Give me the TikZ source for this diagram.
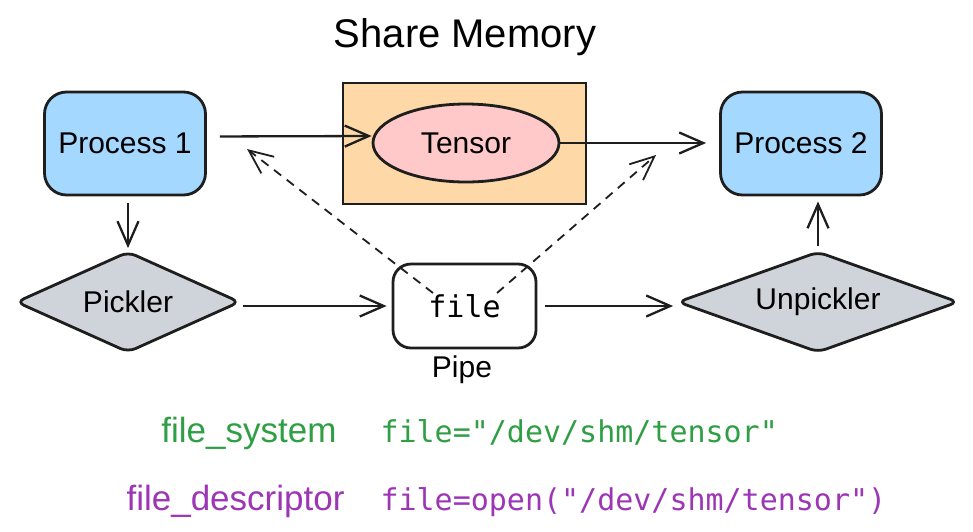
\documentclass[tikz,border=0pt]{standalone}
\usepackage{fontspec}
\setmainfont{Liberation Sans}
\setmonofont{DejaVu Sans Mono}
\usetikzlibrary{shapes.geometric}
\usetikzlibrary{arrows.meta}
\definecolor{procblue}{HTML}{A5D8FF}
\definecolor{shmorange}{HTML}{FFD8A8}
\definecolor{tensorpink}{HTML}{FFC9C9}
\definecolor{picklegray}{HTML}{CED4DA}
\definecolor{inkblack}{HTML}{1E1E1E}
\definecolor{fsgreen}{HTML}{2F9E44}
\definecolor{fdpurple}{HTML}{9C36B5}
\begin{document}
\begin{tikzpicture}[>={Straight Barb[length=24pt,width=21pt]},x=1pt,y=-1pt,
        hand/.style={font=\fontsize{30}{36}\selectfont},
        code/.style={font=\ttfamily\fontsize{30}{36}\selectfont},
        box/.style={draw=inkblack,line width=2.8pt},
        proc/.style={box,fill=procblue,rounded corners=22pt,minimum width=161pt,minimum height=103pt,hand},
        gate/.style={box,fill=picklegray,diamond,rounded corners=8pt,inner sep=0pt,minimum height=101pt,hand},
        arr/.style={->,draw=inkblack,line width=2.3pt},
        darr/.style={->,draw=inkblack,line width=1.8pt,dash pattern=on 9pt off 7pt}]
                        \useasboundingbox (0,0) rectangle (973,531);
                        \node[anchor=base,font=\fontsize{40}{48}\selectfont] (title) at (465,47) {Share Memory};
                        \node[box,fill=shmorange,minimum width=243pt,minimum height=121pt] (shm) at (464.5,143.5) {};
                        \node[box,fill=tensorpink,ellipse,minimum width=186pt,minimum height=78pt,hand] (tensor) at (466,143) {Tensor};
                        \node[proc] (p1) at (125,143.5) {Process 1};
                        \node[proc] (p2) at (801,143.5) {Process 2};
                        \node[gate,aspect=2.2,minimum width=224pt] (pickler) at (128,302) {Pickler};
                        \node[gate,aspect=2.8,minimum width=281pt] (unpickler) at (818,302) {Unpickler};
                        \node[box,fill=white,rounded corners=18pt,minimum width=143pt,minimum height=84pt,code] (file) at (464.5,306) {file};
                        \node[hand,anchor=base] (pipe) at (462,377) {Pipe};
                        \draw[arr,shorten <=13pt] ([yshift=7pt]p1.east) -- ([yshift=7pt]tensor.west);
                        \draw[arr,shorten >=13pt] (tensor.east) -- (tensor.east -| p2.west);
                        \draw[arr,shorten <=7pt,shorten >=2pt] (pickler.north |- p1.south) -- (pickler.north);
                        \draw[arr,shorten <=2pt,shorten >=5pt] (pickler.east |- file.west) -- (file.west);
                        \draw[arr,shorten <=8pt,shorten >=3pt] (file.east) -- (file.east -| unpickler.west);
                        \draw[arr,shorten <=4pt,shorten >=5pt] (unpickler.north) -- (unpickler.north |- p2.south);
                        \coordinate (fileL) at (433,293);
                        \coordinate (fileR) at (497,293);
                        \coordinate (toP1) at (247,149);
                        \coordinate (toP2) at (656,155);
                        \draw[darr] (fileL) -- (toP1);
                        \draw[darr] (fileR) -- (toP2);
                        \node[fsgreen,anchor=base east,font=\fontsize{35}{42}\selectfont] (fs) at (340,442) {file\_system};
                        \node[code,fsgreen,anchor=base west] (fspath) at (377,442) {file="/dev/shm/tensor"};
                        \node[fdpurple,anchor=base east,font=\fontsize{35}{42}\selectfont] (fd) at (348,510) {file\_descriptor};
                        \node[code,fdpurple,anchor=base west] (fdpath) at (377,510) {file=open("/dev/shm/tensor")};
                    \end{tikzpicture}
\end{document}
